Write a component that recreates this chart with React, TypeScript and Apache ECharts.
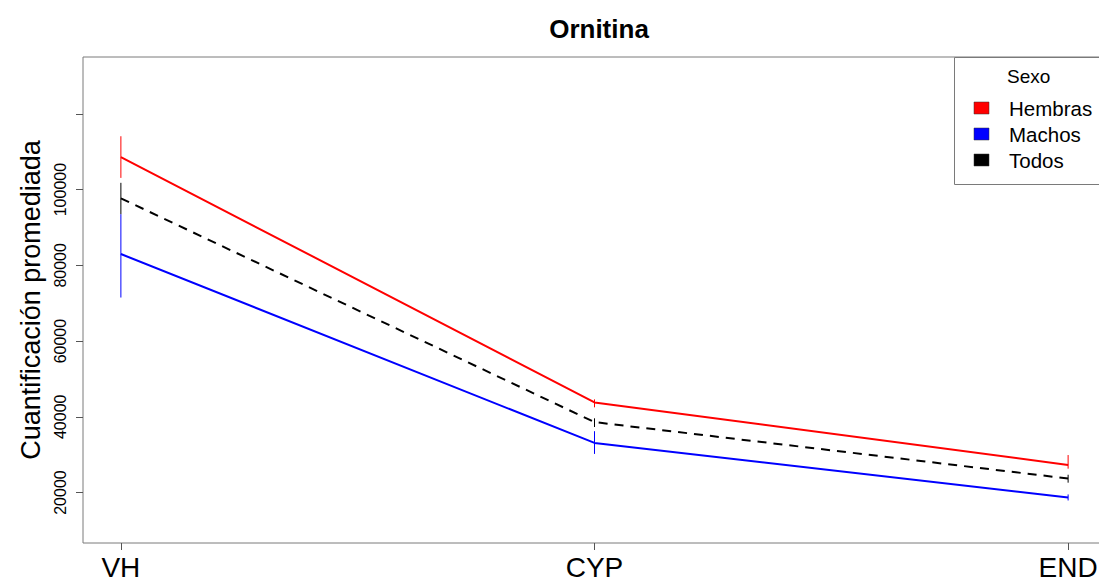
import React, { useEffect, useRef } from "react";
import * as echarts from "echarts";

const categories = ["VH", "CYP", "END"];
const hembras = [108600, 43800, 27300];
const hembrasLow = [103100, 42500, 26300];
const hembrasHigh = [114100, 44600, 29900];
const machos = [83000, 33100, 18700];
const machosLow = [71500, 30200, 17900];
const machosHigh = [93500, 36200, 19500];
const todos = [97700, 38600, 23700];
const todosLow = [93500, 37300, 22600];
const todosHigh = [101800, 39600, 24700];
const yTickValues = [20000, 40000, 60000, 80000, 100000, 120000];
const yLabelValues = [20000, 40000, 60000, 80000, 100000];
const legendNames = ["Hembras", "Machos", "Todos"];
const legendColors = ["#ff0000", "#0000ff", "#000000"];

const FONT = "Liberation Sans, Arial, Helvetica, sans-serif";

export default function App() {
  const ref = useRef<HTMLDivElement>(null);
  useEffect(() => {
    if (!ref.current) return;
    const chart = echarts.init(ref.current, null, { renderer: "svg" });
    const pts = (vals: number[]) => vals.map((v, i) => [i + 1, v]);
    const bars = (lo: number[], hi: number[]) => lo.map((l, i) => [i + 1, l, hi[i]]);
    const errSeries = (lo: number[], hi: number[], color: string) => ({
      type: "custom",
      data: bars(lo, hi),
      encode: { x: 0, y: [1, 2] },
      silent: true,
      z: 3,
      renderItem: (params: any, api: any) => {
        const x = api.value(0);
        const a = api.coord([x, api.value(1)]);
        const b = api.coord([x, api.value(2)]);
        return {
          type: "line",
          shape: { x1: a[0], y1: a[1], x2: b[0], y2: b[1] },
          style: { stroke: color, lineWidth: 1 },
        };
      },
    });
    const lineSeries = (name: string, vals: number[], color: string, dashed: boolean) => ({
      name,
      type: "line",
      data: pts(vals),
      symbol: "none",
      silent: true,
      z: 4,
      lineStyle: { color, width: 2, type: dashed ? [9, 7] : "solid" },
    });
    const legendItems: any[] = [];
    legendNames.forEach((n, i) => {
      const cy = [108, 134, 160][i];
      legendItems.push({
        type: "rect",
        shape: { x: 974, y: cy - 6, width: 15, height: 12 },
        style: { fill: legendColors[i], stroke: "#333", lineWidth: 0.5 },
      });
      legendItems.push({
        type: "text",
        x: 1009,
        y: cy,
        style: {
          text: n,
          font: `20.5px ${FONT}`,
          fill: "#000",
          verticalAlign: "middle",
        },
      });
    });
    chart.setOption({
      animation: false,
      title: {
        text: "Ornitina",
        left: 594,
        top: 11,
        textAlign: "center",
        textStyle: { fontFamily: FONT, fontSize: 26, fontWeight: "bold", color: "#000" },
      },
      grid: {
        left: 83,
        top: 57,
        width: 1023,
        height: 491,
        show: true,
        borderColor: "#7a7a7a",
        borderWidth: 1,
        backgroundColor: "transparent",
      },
      xAxis: {
        type: "value",
        min: 0.92,
        max: 3.08,
        splitLine: { show: false },
        axisLine: { show: false },
        axisTick: {
          show: true,
          length: 7,
          customValues: [1, 2, 3],
          lineStyle: { color: "#555" },
        },
        axisLabel: {
          customValues: [1, 2, 3],
          formatter: (v: number) => categories[Math.round(v) - 1],
          fontFamily: FONT,
          fontSize: 28,
          color: "#000",
          margin: 10,
        },
      },
      yAxis: {
        type: "value",
        min: 6670,
        max: 135030,
        splitLine: { show: false },
        axisLine: { show: false },
        axisTick: {
          show: true,
          length: 7,
          customValues: yTickValues,
          lineStyle: { color: "#555" },
        },
        axisLabel: {
          customValues: yLabelValues,
          formatter: (v: number) => String(v),
          rotate: 90,
          fontFamily: FONT,
          fontSize: 16,
          color: "#000",
          margin: 15,
        },
        name: "Cuantificación promediada",
        nameLocation: "middle",
        nameRotate: 90,
        nameGap: 37,
        nameTextStyle: { fontFamily: FONT, fontSize: 27, color: "#000" },
      },
      series: [
        errSeries(hembrasLow, hembrasHigh, legendColors[0]),
        errSeries(todosLow, todosHigh, legendColors[2]),
        errSeries(machosLow, machosHigh, legendColors[1]),
        lineSeries(legendNames[0], hembras, legendColors[0], false),
        lineSeries(legendNames[1], machos, legendColors[1], false),
        lineSeries(legendNames[2], todos, legendColors[2], true),
      ],
      graphic: [
        {
          type: "group",
          z: 10,
          children: [
            {
              type: "rect",
              shape: { x: 954.5, y: 57.5, width: 170, height: 127 },
              style: { fill: "#fff", stroke: "#7a7a7a", lineWidth: 1 },
            },
            {
              type: "text",
              x: 1007,
              y: 76,
              style: {
                text: "Sexo",
                font: `19px ${FONT}`,
                fill: "#000",
                verticalAlign: "middle",
              },
            },
            ...legendItems,
          ],
        },
      ],
    });
    return () => chart.dispose();
  }, []);
  return (
    <div
      style={{
        position: "absolute",
        left: 0,
        top: 0,
        width: 1099,
        height: 581,
        overflow: "hidden",
      }}
    >
      <div ref={ref} style={{ width: 1120, height: 581 }} />
    </div>
  );
}
